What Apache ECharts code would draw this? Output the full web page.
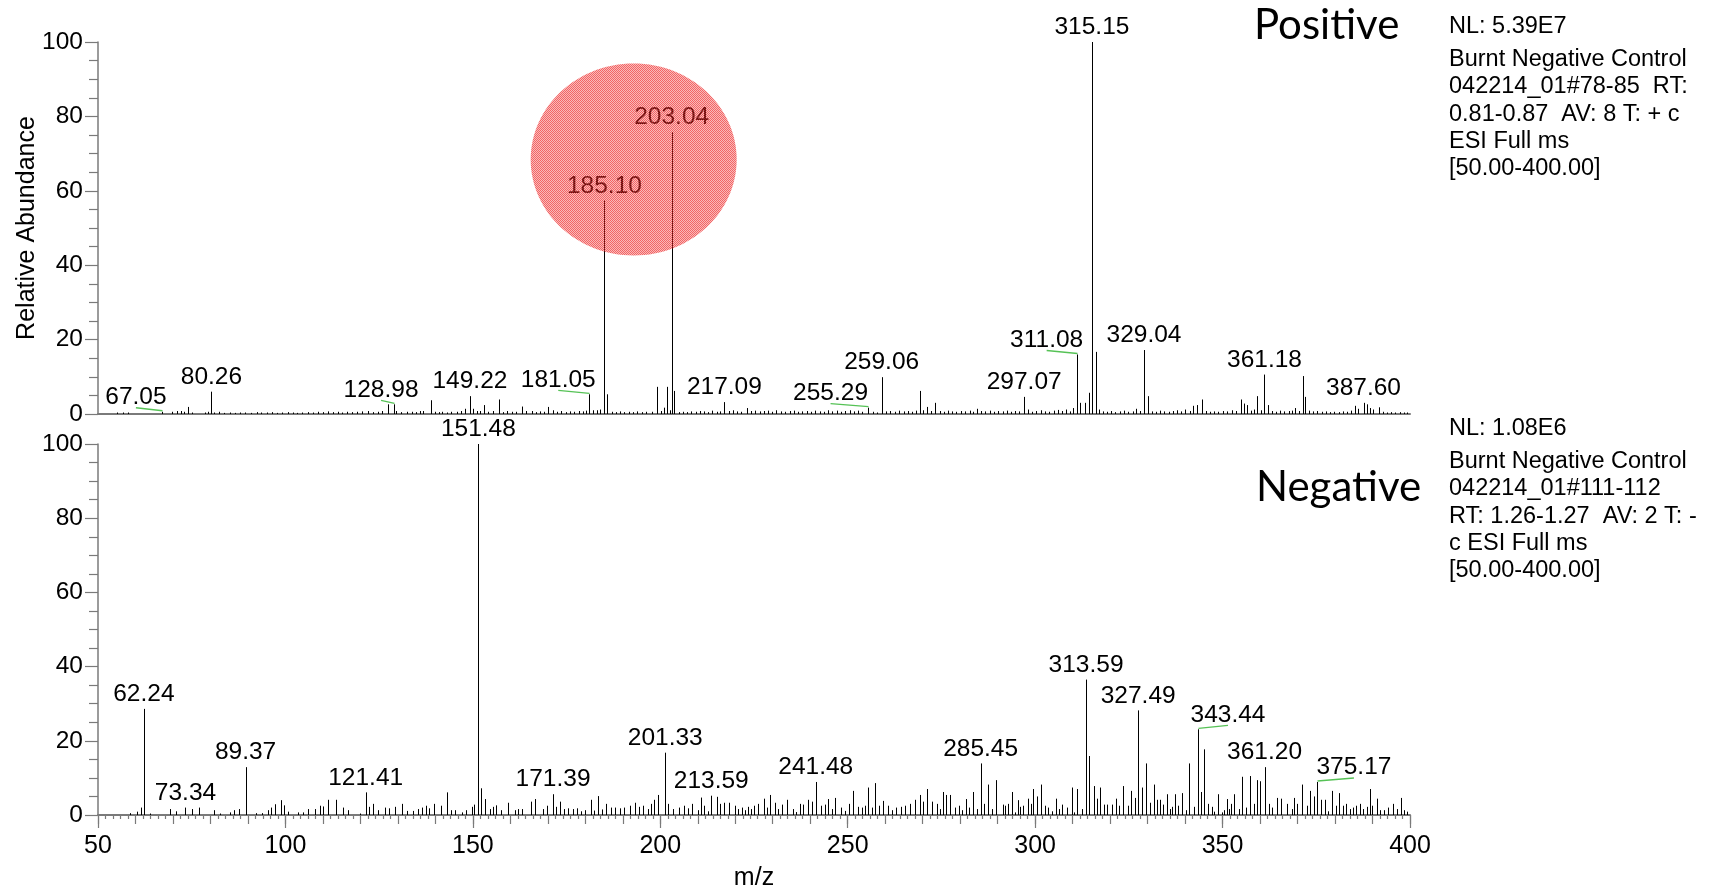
<!DOCTYPE html>
<html>
<head>
<meta charset="utf-8">
<script src="https://cdn.jsdelivr.net/npm/echarts@6/dist/echarts.min.js"></script>
<style>
  html, body { margin: 0; padding: 0; background: #fff; }
  #chart { width: 1713px; height: 892px; }
</style>
</head>
<body>
<div id="chart"></div>
<script>
// ---------- Positive ion mode ----------
// labelled peaks (label text is the m/z value)
const posLabels = ['67.05', '80.26', '128.98', '149.22', '181.05', '185.10', '203.04', '217.09',
                   '255.29', '259.06', '297.07', '311.08', '315.15', '329.04', '361.18', '387.60'];
const posLabelInt = [0.6, 6.0, 2.6, 4.8, 5.3, 57.4, 75.8, 3.2,
                     1.7, 9.9, 4.6, 16.0, 100, 17.2, 10.6, 3.0];
// unlabelled peaks
const posMz = [55.0, 56.7, 58.1, 69.7, 71.0, 72.1, 73.0, 73.9, 75.0, 78.5, 79.4, 81.0, 82.3, 83.5, 85.2, 86.6,
  88.0, 89.3, 90.8, 92.4, 93.6, 95.0, 96.3, 97.7, 99.0, 100.6, 101.9, 103.2, 104.5, 106.0, 107.3, 108.8,
  110.0, 111.4, 112.6, 113.9, 115.2, 116.5, 117.8, 119.0, 120.4, 122.1, 123.3, 124.6, 125.8, 127.3, 129.6,
  130.9, 132.3, 133.7, 134.8, 135.9, 136.8, 138.8, 139.9, 141.0, 141.7, 143.0, 144.3, 145.7, 146.8, 147.9,
  150.1, 151.0, 151.9, 153.0, 154.1, 155.4, 156.9, 158.0, 159.0, 160.4, 161.4, 163.0, 164.3, 165.7, 166.8,
  167.9, 169.0, 170.1, 171.3, 172.5, 173.6, 174.8, 175.9, 177.0, 178.2, 179.4, 180.3, 182.1, 183.0, 183.9,
  185.8, 187.0, 188.1, 189.3, 190.4, 191.6, 192.8, 193.9, 195.1, 196.3, 197.7, 199.0, 200.2, 201.0, 201.7,
  202.6, 203.7, 204.9, 206.0, 207.2, 208.3, 209.4, 210.6, 211.7, 212.8, 213.9, 215.0, 216.0, 218.2, 219.3,
  220.5, 221.6, 223.0, 224.2, 225.3, 226.5, 227.6, 228.8, 229.9, 231.0, 232.2, 233.3, 234.5, 235.6, 236.8,
  237.9, 239.1, 240.2, 241.4, 242.5, 243.7, 244.8, 245.9, 247.1, 248.2, 249.4, 250.5, 251.6, 252.8, 253.9,
  256.8, 257.8, 260.3, 261.4, 262.6, 263.7, 264.9, 266.0, 267.1, 268.2, 269.2, 270.2, 271.1, 272.2, 273.3,
  274.5, 275.6, 276.8, 277.9, 279.0, 280.2, 281.3, 282.5, 283.5, 284.4, 285.6, 286.7, 287.9, 289.0, 290.1,
  291.3, 292.4, 293.6, 294.7, 295.8, 298.1, 299.2, 300.3, 301.5, 302.6, 303.7, 304.9, 306.0, 307.1, 308.3,
  309.2, 310.1, 311.9, 313.3, 314.4, 316.2, 317.0, 318.1, 319.2, 320.3, 321.4, 322.6, 323.7, 324.8, 326.0,
  327.0, 327.9, 330.0, 331.1, 332.2, 333.4, 334.5, 335.6, 336.8, 337.9, 339.0, 340.1, 341.2, 342.2, 343.1,
  344.4, 345.5, 346.6, 347.8, 348.9, 350.0, 351.2, 352.4, 353.5, 354.9, 355.6, 356.4, 357.5, 358.4, 359.2,
  360.2, 362.0, 363.1, 364.2, 365.3, 366.4, 367.6, 368.5, 369.3, 370.4, 371.4, 372.0, 373.1, 374.2, 375.3,
  376.4, 377.6, 378.7, 379.8, 381.0, 382.1, 383.2, 384.3, 385.3, 386.2, 388.4, 389.3, 390.2, 391.6, 392.7,
  393.8, 394.9, 396.0, 397.2, 398.3, 399.3];
const posInt = [0.4, 0.4, 0.4, 0.6, 0.8, 0.8, 0.6, 1.9, 0.4, 0.4, 0.6, 0.4, 0.6, 0.3, 0.4, 0.3,
  0.4, 0.4, 0.3, 0.5, 0.4, 0.4, 0.5, 0.3, 0.4, 0.5, 0.4, 0.3, 0.4, 0.5, 0.4, 0.6,
  0.5, 0.7, 0.5, 0.6, 0.4, 0.6, 0.5, 0.6, 0.7, 0.8, 0.5, 0.6, 0.8, 2.6, 0.8,
  0.5, 0.6, 0.6, 0.5, 0.8, 0.8, 3.7, 0.6, 0.5, 0.6, 0.4, 0.6, 0.6, 0.8, 1.4,
  1.4, 0.8, 0.8, 2.4, 0.6, 0.8, 3.9, 0.5, 0.8, 0.6, 0.6, 2.0, 0.8, 0.8, 0.5,
  0.7, 0.6, 1.9, 1.0, 0.6, 0.8, 0.5, 0.7, 0.6, 0.8, 0.7, 0.9, 1.0, 1.0, 1.2,
  5.3, 0.6, 0.5, 0.7, 0.5, 0.6, 0.5, 0.7, 0.5, 0.6, 0.6, 7.3, 0.8, 1.7, 7.3,
  1.0, 6.2, 0.5, 0.6, 0.5, 0.7, 0.6, 0.8, 0.7, 0.5, 0.9, 0.6, 0.7, 0.8, 1.0,
  0.7, 0.6, 1.6, 0.8, 0.9, 0.7, 0.8, 0.9, 0.6, 1.0, 0.7, 0.6, 0.8, 0.9, 0.6,
  0.7, 0.8, 0.6, 0.9, 0.7, 0.6, 1.0, 0.7, 0.9, 0.6, 0.8, 1.0, 0.7, 0.9, 0.6,
  0.6, 0.4, 0.7, 0.8, 0.6, 0.9, 0.7, 0.8, 0.6, 0.9, 6.2, 1.0, 1.9, 0.8, 3.0,
  0.8, 0.6, 0.9, 0.7, 0.6, 0.8, 0.7, 0.9, 0.6, 1.4, 0.8, 0.7, 0.9, 0.6, 0.8,
  0.7, 0.9, 0.6, 0.8, 0.7, 1.2, 0.6, 0.8, 1.0, 0.7, 0.6, 0.9, 1.1, 0.8, 1.2,
  0.7, 1.6, 3.0, 3.0, 5.7, 16.7, 1.2, 0.7, 0.6, 0.8, 0.5, 0.7, 0.9, 0.6, 0.7,
  1.4, 0.8, 4.8, 0.7, 0.6, 0.9, 0.7, 0.6, 0.8, 1.0, 0.7, 1.2, 0.8, 2.2, 2.4,
  3.9, 0.8, 0.6, 0.7, 0.6, 0.8, 0.7, 1.0, 0.8, 3.9, 2.8, 2.4, 0.9, 1.2, 4.8,
  1.0, 2.4, 0.8, 0.6, 0.9, 0.7, 0.8, 0.9, 1.6, 0.8, 10.2, 4.6, 0.9, 0.7, 0.8,
  0.6, 0.7, 0.5, 0.6, 0.5, 0.7, 0.6, 0.9, 2.2, 1.4, 2.6, 1.6, 1.2, 1.8, 0.6,
  0.4, 0.5, 0.4, 0.5, 0.4, 0.4];

// ---------- Negative ion mode ----------
const negLabels = ['62.24', '73.34', '89.37', '121.41', '151.48', '171.39', '201.33', '213.59',
                   '241.48', '285.45', '313.59', '327.49', '343.44', '361.20', '375.17'];
const negLabelInt = [28.6, 2.0, 12.9, 6.1, 100, 5.6, 16.8, 5.2,
                     8.9, 13.9, 36.5, 28.2, 23.1, 12.9, 8.9];
const negMz = [58.5, 60.3, 61.4, 63.9, 69.2, 70.8, 75.0, 77.0, 81.0, 82.5, 85.2, 86.4, 87.6, 92.1, 93.7,
  95.3, 96.1, 97.2, 98.8, 99.7, 100.6, 103.4, 104.8, 106.1, 107.9, 109.2, 110.1, 111.3, 113.4, 115.4,
  116.8, 119.9, 122.3, 123.4, 124.8, 126.6, 127.7, 129.2, 131.2, 132.3, 133.9, 135.4, 136.5, 137.5, 138.4,
  139.7, 141.5, 143.0, 144.3, 145.2, 147.0, 148.3, 149.8, 150.4, 152.3, 153.2, 154.5, 155.4, 156.3, 157.5,
  159.3, 161.2, 162.1, 163.2, 165.5, 166.5, 168.8, 169.7, 172.2, 173.2, 174.3, 175.4, 176.6, 177.8, 178.9,
  179.9, 181.5, 182.4, 183.5, 184.5, 185.5, 186.8, 188.0, 189.2, 190.4, 191.9, 193.2, 194.4, 195.5, 196.6,
  197.4, 198.3, 199.3, 202.1, 203.5, 205.0, 206.4, 207.3, 208.5, 210.0, 210.9, 211.6, 212.6, 215.0, 216.0,
  217.1, 218.4, 219.9, 220.8, 221.7, 222.6, 223.5, 224.3, 225.0, 226.2, 227.6, 228.4, 229.2, 230.6, 231.5,
  232.4, 233.9, 235.4, 236.3, 237.2, 238.1, 239.5, 240.4, 243.0, 243.9, 244.8, 245.7, 246.6, 248.1, 249.3,
  250.4, 251.5, 252.8, 253.9, 254.6, 255.5, 256.4, 257.3, 258.4, 259.5, 260.8, 261.8, 262.9, 264.1, 265.3,
  266.6, 268.0, 269.3, 270.2, 271.2, 272.4, 273.7, 274.6, 275.5, 276.3, 277.4, 278.6, 279.7, 280.6, 281.5,
  282.3, 283.5, 284.4, 286.4, 287.5, 288.4, 289.5, 291.3, 292.0, 292.8, 293.7, 294.6, 295.3, 295.9, 296.8,
  298.1, 298.9, 299.5, 300.6, 301.5, 302.7, 303.5, 304.4, 305.5, 306.4, 307.2, 308.4, 309.7, 310.4, 311.2,
  312.4, 314.4, 315.7, 316.5, 317.4, 318.3, 319.3, 320.4, 321.5, 322.3, 323.5, 324.7, 325.5, 326.6, 328.4,
  329.7, 330.6, 331.7, 332.5, 333.2, 334.2, 335.2, 336.0, 336.6, 337.3, 338.1, 339.3, 340.3, 341.1, 342.4,
  344.2, 345.1, 346.2, 347.1, 347.8, 348.8, 349.9, 350.4, 351.1, 351.8, 352.2, 353.1, 354.3, 355.2, 356.2,
  357.3, 358.3, 359.2, 360.1, 362.3, 363.2, 364.4, 365.5, 367.2, 368.4, 369.1, 369.9, 371.3, 372.4, 373.3,
  374.4, 376.2, 377.3, 378.2, 379.3, 380.2, 381.1, 382.1, 383.0, 383.9, 384.8, 385.7, 386.6, 387.5, 388.4,
  389.3, 389.8, 391.2, 392.1, 393.0, 394.1, 395.4, 396.5, 397.5, 398.5, 399.2];
const negInt = [0.5, 0.9, 2.0, 0.4, 1.6, 1.0, 1.6, 2.0, 1.3, 0.4, 0.7, 1.3, 1.6, 0.5, 0.5,
  1.3, 2.0, 2.9, 4.0, 2.6, 0.9, 0.7, 0.7, 1.6, 1.6, 2.5, 2.3, 4.1, 4.1, 2.0,
  1.3, 0.4, 2.2, 3.0, 1.3, 2.0, 1.8, 2.2, 3.0, 1.1, 1.1, 1.6, 2.0, 2.5, 1.8,
  3.0, 2.5, 6.1, 1.3, 1.3, 0.7, 1.3, 2.2, 2.8, 7.2, 4.3, 1.6, 2.2, 2.6, 1.3,
  3.3, 1.3, 1.6, 1.6, 3.6, 4.3, 1.6, 2.5, 2.2, 3.6, 1.6, 1.8, 1.6, 1.8, 1.0,
  1.3, 4.1, 1.2, 5.1, 1.5, 3.0, 2.0, 2.0, 1.8, 2.0, 2.5, 3.3, 2.2, 2.5, 1.6,
  3.0, 4.1, 5.4, 3.0, 1.6, 2.0, 2.5, 1.8, 3.0, 1.3, 4.7, 2.5, 1.0, 4.9, 3.0,
  3.3, 3.3, 2.5, 1.6, 2.0, 1.3, 2.2, 1.6, 2.5, 3.0, 4.4, 2.0, 5.4, 3.3, 1.6,
  2.8, 4.1, 1.6, 0.8, 3.0, 2.8, 4.1, 3.6, 2.5, 2.8, 4.3, 1.6, 4.6, 2.0, 1.1,
  3.0, 6.5, 2.2, 2.0, 2.5, 7.4, 2.0, 8.6, 2.5, 3.8, 2.5, 1.3, 2.0, 2.2, 2.5,
  3.0, 4.1, 5.4, 3.6, 7.0, 3.6, 3.0, 1.6, 6.2, 5.4, 5.4, 2.0, 2.5, 1.3, 4.3,
  2.0, 6.2, 1.6, 3.0, 8.2, 1.6, 9.4, 2.8, 2.5, 3.0, 6.2, 0.7, 4.0, 2.2, 2.5,
  4.4, 3.0, 7.0, 5.0, 8.2, 2.5, 2.0, 1.0, 4.4, 1.6, 2.8, 2.0, 7.4, 0.7, 7.0,
  1.6, 15.9, 7.8, 4.4, 7.4, 2.8, 2.8, 2.8, 4.4, 2.5, 7.8, 2.5, 6.5, 4.6, 7.4,
  13.9, 3.3, 8.2, 4.1, 4.1, 2.8, 5.6, 1.6, 2.2, 5.6, 2.5, 5.9, 1.3, 13.9, 2.2,
  6.2, 17.7, 3.0, 2.2, 0.9, 5.6, 0.7, 1.3, 4.3, 1.6, 3.0, 5.6, 1.6, 10.3, 2.0,
  10.5, 3.0, 9.4, 9.1, 3.0, 2.0, 4.6, 4.4, 3.0, 1.6, 4.6, 3.0, 8.2, 2.5, 6.5,
  5.0, 4.1, 4.1, 1.0, 6.5, 2.5, 5.9, 2.5, 3.0, 1.6, 2.0, 2.5, 3.0, 1.6, 2.2,
  7.0, 2.5, 4.4, 1.3, 1.3, 2.0, 3.0, 1.6, 4.6, 1.3, 0.9];

// axis ticks / labels
const mzMin = 50, mzMax = 400, mzLabelStep = 50, mzMidStep = 10;
const abMin = 0, abMax = 100, abLabelStep = 20;

// side annotations
const posTitle = 'Positive';
const negTitle = 'Negative';
const posInfo = ['NL: 5.39E7', 'Burnt Negative Control', '042214_01#78-85  RT:',
                 '0.81-0.87  AV: 8 T: + c', 'ESI Full ms', '[50.00-400.00]'];
const negInfo = ['NL: 1.08E6', 'Burnt Negative Control', '042214_01#111-112',
                 'RT: 1.26-1.27  AV: 2 T: -', 'c ESI Full ms', '[50.00-400.00]'];

// horizontal label offsets (px) for labels sitting beside their peak, joined by a leader line
const labelShift = { '67.05': -26, '128.98': -13, '181.05': -31, '255.29': -37, '311.08': -30,
                     '343.44': 30, '375.17': 37 };

// highlighted region in the positive spectrum (m/z, abundance)
const highlightCenter = [192.9, 68.4];

const FONT = '"Liberation Sans", Arial, Helvetica, sans-serif';
const TITLE_FONT = 'Lato, "Open Sans", sans-serif';
const AXIS_GRAY = '#7a7a7a';
const NUM_SIZE = 24.5;

function stickSeries(idx, mz, inten) {
  return {
    type: 'custom', xAxisIndex: idx, yAxisIndex: idx, z: 3, silent: true,
    data: mz.map((m, i) => [m, inten[i]]),
    renderItem(params, api) {
      const base = api.coord([api.value(0), 0]);
      const tip = api.coord([api.value(0), api.value(1)]);
      const px = Math.round(base[0]) + 0.5;
      return { type: 'line', shape: { x1: px, y1: base[1], x2: px, y2: tip[1] },
               style: { stroke: '#000', lineWidth: 1 } };
    }
  };
}

function labelSeries(idx, texts, inten) {
  return {
    type: 'custom', xAxisIndex: idx, yAxisIndex: idx, z: 4, silent: true,
    data: texts.map((t, i) => [parseFloat(t), inten[i]]),
    renderItem(params, api) {
      const t = texts[params.dataIndex];
      const tip = api.coord([api.value(0), api.value(1)]);
      const dx = labelShift[t] || 0;
      const lx = tip[0] + dx;
      const baseY = tip[1] - 5;
      const kids = [{
        type: 'text',
        style: { text: t, x: lx, y: baseY + 3, align: 'center', verticalAlign: 'bottom',
                 fontSize: NUM_SIZE, fontFamily: FONT, fill: '#000' }
      }];
      if (dx) {
        kids.push({ type: 'line', shape: { x1: Math.round(tip[0]) + 0.5, y1: tip[1] - 1, x2: lx, y2: baseY + 1 },
                    style: { stroke: '#56c256', lineWidth: 1.3 } });
      }
      return { type: 'group', children: kids };
    }
  };
}

function yAxisFor(idx, name) {
  return {
    type: 'value', gridIndex: idx, min: abMin, max: abMax, interval: abLabelStep,
    name: name, nameLocation: 'middle', nameGap: 58, nameMoveOverlap: false,
    nameTextStyle: { fontSize: 25, fontFamily: FONT, color: '#000' },
    axisLine: { show: true, lineStyle: { color: AXIS_GRAY, width: 1.5 } },
    axisTick: { show: true, length: 13, lineStyle: { color: AXIS_GRAY, width: 1.2 } },
    minorTick: { show: true, splitNumber: 4, length: 9, lineStyle: { color: AXIS_GRAY, width: 1.2 } },
    axisLabel: { fontSize: NUM_SIZE, fontFamily: FONT, color: '#000', margin: 15 },
    splitLine: { show: false }
  };
}

// fine dotted fill for the highlight ellipse
function dotPattern() {
  const c = document.createElement('canvas');
  c.width = 2; c.height = 2;
  const g = c.getContext('2d');
  g.fillStyle = 'rgba(236,36,36,0.70)';
  g.fillRect(0, 0, 1, 1); g.fillRect(1, 1, 1, 1);
  g.fillStyle = 'rgba(240,60,60,0.36)';
  g.fillRect(1, 0, 1, 1); g.fillRect(0, 1, 1, 1);
  return c;
}

const chart = echarts.init(document.getElementById('chart'), null, { renderer: 'canvas' });

const option = {
  backgroundColor: '#fff',
  animation: false,
  grid: [
    { left: 98, top: 42, width: 1312, height: 372 },
    { left: 98, top: 444, width: 1312, height: 373 }
  ],
  xAxis: [
    { type: 'value', gridIndex: 0, min: mzMin, max: mzMax, interval: mzLabelStep,
      axisLine: { show: true, onZero: false, lineStyle: { color: AXIS_GRAY, width: 2 } },
      axisTick: { show: false }, axisLabel: { show: false }, splitLine: { show: false } },
    { type: 'value', gridIndex: 1, min: mzMin, max: mzMax, interval: mzLabelStep, position: 'bottom',
      name: 'm/z', nameLocation: 'middle', nameGap: 51, nameMoveOverlap: false,
      nameTextStyle: { fontSize: 25, fontFamily: FONT, color: '#000' },
      axisLine: { show: true, onZero: false, lineStyle: { color: AXIS_GRAY, width: 2 } },
      axisTick: { show: true, length: 13, lineStyle: { color: AXIS_GRAY, width: 1.2 } },
      axisLabel: { fontSize: 25, fontFamily: FONT, color: '#000', margin: 19 },
      splitLine: { show: false } },
    { type: 'value', gridIndex: 1, min: mzMin, max: mzMax, interval: mzMidStep, position: 'bottom',
      axisLine: { show: false, onZero: false },
      axisTick: { show: true, length: 9, lineStyle: { color: AXIS_GRAY, width: 1.2 } },
      minorTick: { show: true, splitNumber: 5, length: 4, lineStyle: { color: AXIS_GRAY, width: 1.2 } },
      axisLabel: { show: false }, splitLine: { show: false } }
  ],
  yAxis: [yAxisFor(0, 'Relative Abundance'), yAxisFor(1, '')],
  series: [
    stickSeries(0, posMz, posInt),
    stickSeries(0, posLabels.map(parseFloat), posLabelInt),
    labelSeries(0, posLabels, posLabelInt),
    stickSeries(1, negMz, negInt),
    stickSeries(1, negLabels.map(parseFloat), negLabelInt),
    labelSeries(1, negLabels, negLabelInt)
  ]
};
chart.setOption(option);

// annotations: highlight ellipse, mode titles and acquisition info
const hc = chart.convertToPixel({ gridIndex: 0 }, highlightCenter);
function infoBlock(lines, firstBaseline) {
  return lines.map((s, i) => ({
    type: 'text', left: 1449,
    top: (i === 0 ? firstBaseline : firstBaseline + 33 + 27.3 * (i - 1)) - 17.5,
    style: { text: s, fontSize: 23.5, fontFamily: FONT, fill: '#000' }
  }));
}
chart.setOption({
  graphic: [
    { type: 'ellipse', shape: { cx: hc[0], cy: hc[1], rx: 103, ry: 96 }, z: 10, silent: true,
      style: { fill: { image: dotPattern(), repeat: 'repeat' } } },
    { type: 'text', left: 1254, top: 4, style: { text: posTitle, fontSize: 42, fontFamily: TITLE_FONT, fill: '#000' } },
    { type: 'text', left: 1256, top: 466, style: { text: negTitle, fontSize: 42, fontFamily: TITLE_FONT, fill: '#000' } }
  ].concat(infoBlock(posInfo, 32)).concat(infoBlock(negInfo, 434))
});
</script>
</body>
</html>
